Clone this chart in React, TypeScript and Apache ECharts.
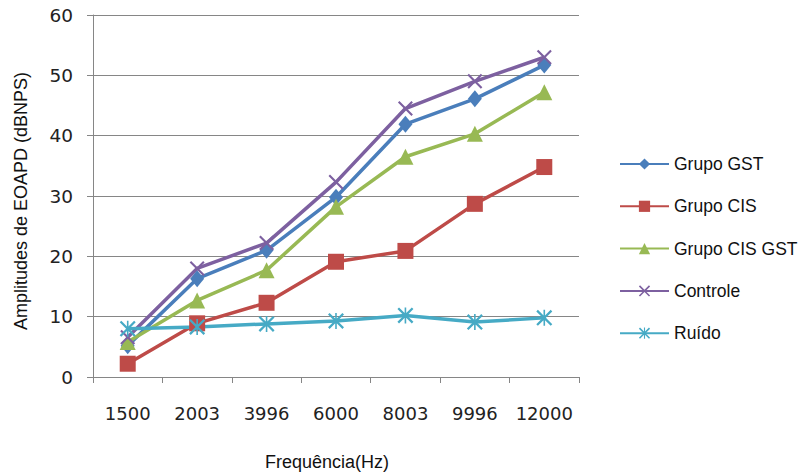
import React, { useEffect, useRef } from "react";
import * as echarts from "echarts";

const categories = ["1500", "2003", "3996", "6000", "8003", "9996", "12000"];
const grupoGST = [5.2, 16.3, 21.0, 29.8, 41.9, 46.1, 51.7];
const grupoCIS = [2.2, 8.9, 12.3, 19.1, 20.9, 28.7, 34.8];
const grupoCISGST = [5.8, 12.7, 17.7, 28.2, 36.5, 40.3, 47.2];
const controle = [6.6, 18.0, 22.2, 32.3, 44.5, 49.0, 53.0];
const ruido = [8.0, 8.3, 8.8, 9.3, 10.2, 9.1, 9.8];
const yTicks = { min: 0, max: 60, interval: 10 };

const X_PATH =
  "path://M2,0 L10,8 L18,0 L20,2 L12,10 L20,18 L18,20 L10,12 L2,20 L0,18 L8,10 L0,2 Z";
const STAR_PATH =
  "path://M2,0 L10,8 L18,0 L20,2 L12,10 L20,18 L18,20 L10,12 L2,20 L0,18 L8,10 L0,2 Z M9,0 L11,0 L11,20 L9,20 Z";

export default function App() {
  const ref = useRef<HTMLDivElement>(null);
  useEffect(() => {
    if (!ref.current) return;
    const chart = echarts.init(ref.current, undefined, { renderer: "svg" });
    const mk = (name: string, data: number[], color: string, symbol: string, size: any) => ({
      name,
      type: "line",
      data,
      symbol,
      symbolSize: size,
      showAllSymbol: true,
      lineStyle: { color, width: 3.5 },
      itemStyle: { color },
      emphasis: { disabled: true },
    });
    chart.setOption({
      animation: false,
      backgroundColor: "#ffffff",
      grid: { left: 93, right: 222, top: 15, bottom: 98, containLabel: false },
      legend: {
        orient: "vertical",
        left: 614,
        top: 150,
        itemWidth: 49,
        itemHeight: 14,
        itemGap: 24.3,
        textStyle: { fontFamily: "Liberation Sans", fontSize: 17.5, color: "#111" },
        data: ["Grupo GST", "Grupo CIS", "Grupo CIS GST", "Controle", "Ruído"],
      },
      graphic: [
        {
          type: "text",
          x: 21,
          y: 201,
          rotation: Math.PI / 2,
          style: {
            text: "Amplitudes de EOAPD (dBNPS)",
            fontFamily: "Liberation Sans",
            fontSize: 18,
            fill: "#111",
            align: "center",
            verticalAlign: "middle",
          },
        },
        {
          type: "text",
          x: 327,
          y: 462,
          style: {
            text: "Frequência(Hz)",
            fontFamily: "Liberation Sans",
            fontSize: 18,
            fill: "#111",
            align: "center",
            verticalAlign: "middle",
          },
        },
      ],
      xAxis: {
        type: "category",
        data: categories,
        boundaryGap: true,
        axisLine: { show: true, lineStyle: { color: "#868686", width: 1 } },
        axisTick: { show: true, length: 6, interval: 0, lineStyle: { color: "#868686" } },
        axisLabel: {
          interval: 0,
          margin: 27,
          fontFamily: "DejaVu Sans",
          fontSize: 18,
          color: "#222",
        },
        splitLine: { show: false },
      },
      yAxis: {
        type: "value",
        min: yTicks.min,
        max: yTicks.max,
        interval: yTicks.interval,
        axisLine: { show: true, lineStyle: { color: "#868686", width: 1 } },
        axisTick: { show: true, length: 6, lineStyle: { color: "#868686" } },
        axisLabel: {
          margin: 20,
          fontFamily: "DejaVu Sans",
          fontSize: 18.5,
          color: "#222",
        },
        splitLine: { show: true, lineStyle: { color: "#868686", width: 1 } },
      },
      series: [
        mk("Grupo GST", grupoGST, "#4A7EBB", "diamond", [14, 17]),
        mk("Grupo CIS", grupoCIS, "#BE4B48", "rect", 16),
        mk("Grupo CIS GST", grupoCISGST, "#98B954", "triangle", 16),
        mk("Controle", controle, "#7D60A0", X_PATH, 15),
        mk("Ruído", ruido, "#46AAC5", STAR_PATH, 16),
      ],
    });
    return () => chart.dispose();
  }, []);
  return <div ref={ref} style={{ width: 801, height: 475, position: "absolute", left: 0, top: 0 }} />;
}
